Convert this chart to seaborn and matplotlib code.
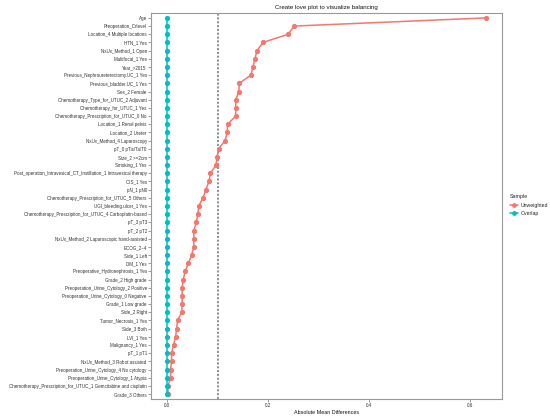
import numpy as np
import pandas as pd
import seaborn as sns
import matplotlib
matplotlib.use("Agg")
import matplotlib.pyplot as plt
from matplotlib.lines import Line2D

variables = [
    "Age", "Preoperation_Crlevel", "Location_4 Multiple locations", "HTN_1 Yes",
    "NxUx_Method_1 Open", "Multifocal_1 Yes", "Year_>2015",
    "Previous_Nephroureterectomy.UC_1 Yes", "Previous_bladder.UC_1 Yes", "Sex_2 Female",
    "Chemotherapy_Type_for_UTUC_2 Adjuvant", "Chemotherapy_for_UTUC_1 Yes",
    "Chemotherapy_Prescription_for_UTUC_0 No", "Location_1 Renal pelvis",
    "Location_2 Ureter", "NxUx_Method_4 Laparoscopy", "pT_0 pTis/Ta/T0",
    "Size_2 >=2cm", "Smoking_1 Yes",
    "Post_operation_Intravesical_CT_Instillation_1 Intravesical therapy",
    "CIS_1 Yes", "pN_1 pN0", "Chemotherapy_Prescription_for_UTUC_5 Others",
    "UGI_bleeding.ulcer_1 Yes", "Chemotherapy_Prescription_for_UTUC_4 Carboplatin-based",
    "pT_3 pT3", "pT_2 pT2", "NxUx_Method_2 Laparoscopic hand-assisted", "ECOG_2~4",
    "Side_1 Left", "DM_1 Yes", "Preoperative_Hydronephrosis_1 Yes", "Grade_2 High grade",
    "Preoperation_Urine_Cytology_2 Positive", "Preoperation_Urine_Cytology_0 Negative",
    "Grade_1 Low grade", "Side_2 Right", "Tumor_Necrosis_1 Yes", "Side_3 Both",
    "LVI_1 Yes", "Malignancy_1 Yes", "pT_1 pT1", "NxUx_Method_3 Robot assisted",
    "Preoperation_Urine_Cytology_4 No cytology", "Preoperation_Urine_Cytology_1 Atypia",
    "Chemotherapy_Prescription_for_UTUC_1 Gemcitabine and cisplatin", "Grade_3 Others",
]

unweighted = [
    0.631, 0.251, 0.240, 0.190, 0.178, 0.174, 0.170, 0.166, 0.143, 0.142,
    0.136, 0.136, 0.136, 0.120, 0.119, 0.115, 0.102, 0.099, 0.097, 0.086,
    0.083, 0.077, 0.071, 0.063, 0.061, 0.058, 0.053, 0.053, 0.053, 0.049,
    0.042, 0.036, 0.032, 0.030, 0.030, 0.030, 0.029, 0.021, 0.019, 0.017,
    0.013, 0.009, 0.009, 0.007, 0.007, 0.002, 0.002,
]
overlap = [0.0] * len(variables)

samples = ["Unweighted", "Overlap"]
threshold = 0.1

df = pd.concat([
    pd.DataFrame({"Variable": variables, "diff": unweighted, "Sample": samples[0]}),
    pd.DataFrame({"Variable": variables, "diff": overlap, "Sample": samples[1]}),
], ignore_index=True)

sns.set_theme(style="white")
plt.rcParams["font.family"] = ["Liberation Sans", "DejaVu Sans"]

palette = {"Unweighted": "#F8766D", "Overlap": "#00BFC4"}

fig = plt.figure(figsize=(5.5, 4.16), dpi=100)
ax = fig.add_axes([151 / 550, 1 - 399 / 416, (502 - 151) / 550, (399 - 13) / 416])

ax.axvline(threshold, color="#808080", lw=1.2, ls=(0, (1.3, 1.0)), zorder=1)

sns.pointplot(data=df, x="diff", y="Variable", hue="Sample", hue_order=samples,
              order=variables, palette=palette, markers="o", linestyles="-",
              orient="h", errorbar=None, markersize=2.9, linewidth=1.1,
              ax=ax, legend=False)

ax.set_xlim(-0.0316, 0.6626)
ax.set_ylim(len(variables) - 1 + 0.6, -0.6)
ax.set_xticks([0.0, 0.2, 0.4, 0.6])
ax.set_xticklabels(["0.0", "0.2", "0.4", "0.6"])
ax.set_xlabel("Absolute Mean Differences", fontsize=3.9, labelpad=1.5, color="#111111")
ax.set_ylabel("")
ax.set_title("Create love plot to visualize balancing", fontsize=4.4, pad=3, color="#111111")

ax.tick_params(axis="both", which="both", direction="out", length=2, width=0.4,
               color="#555555", labelsize=3.25, labelcolor="#333333", pad=1, left=True, bottom=True)
for sp in ax.spines.values():
    sp.set_color("#999999")
    sp.set_linewidth(0.8)
ax.grid(False)

handles = [
    Line2D([0], [0], color=palette[s], marker="o", markersize=2.4, lw=1.1, label=s)
    for s in samples
]
leg = fig.legend(handles=handles, title="Sample", loc="center left",
                 bbox_to_anchor=(505 / 550, 1 - 205 / 416), frameon=False,
                 fontsize=3.7, title_fontsize=3.9, handlelength=1.6,
                 handletextpad=0.5, labelspacing=0.6)
leg._legend_box.align = "left"

fig.savefig("out.png", dpi=100)
